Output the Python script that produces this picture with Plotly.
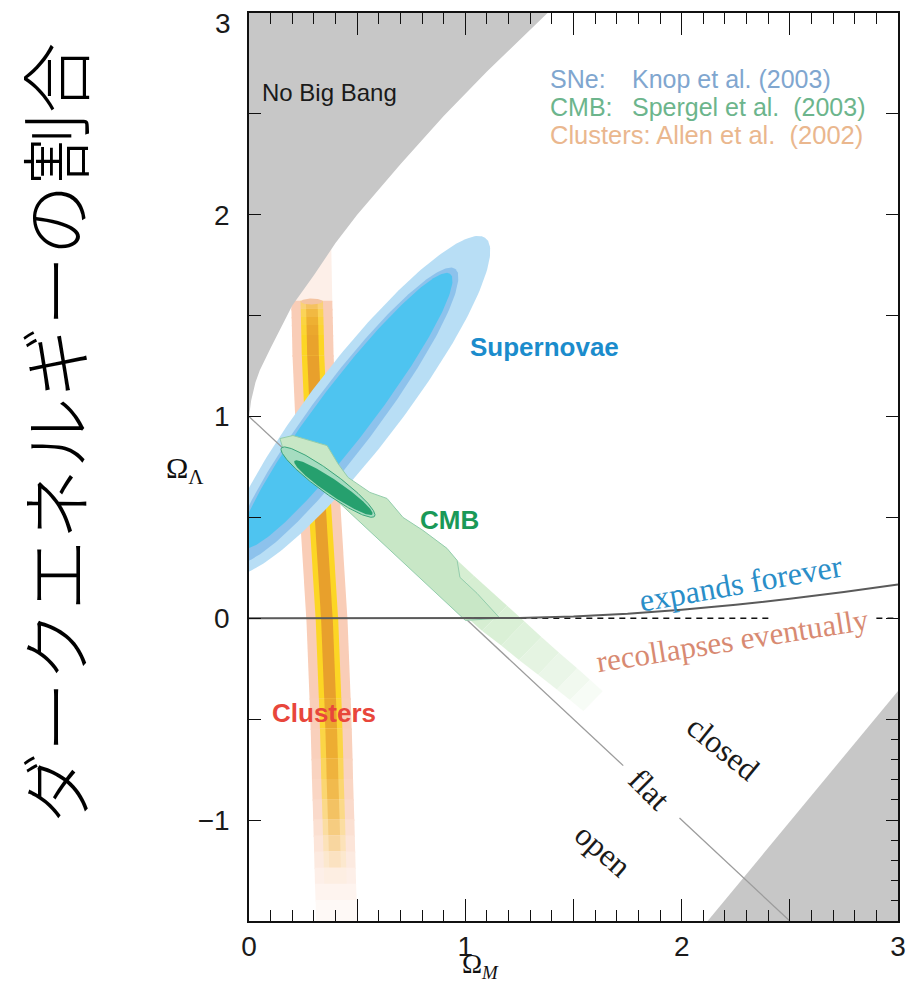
import numpy as np
import plotly.graph_objects as go

# ---------------- data ----------------
x_tick_vals = [0, 1, 2, 3]
x_tick_text = ["0", "1", "2", "3"]
x_half_ticks = [0.5, 1.5, 2.5]
y_tick_vals = [-1, 0, 1, 2]
y_tick_text = ["\u22121", "0", "1", "2"]
y_top_label = "3"
y_right_major = [-1.5, -1, -0.5, 0, 0.5, 1, 1.5, 2, 2.5, 3]
y_right_minor = [-1.4, -1.3, -1.2, -1.1, -0.9, -0.8, -0.7, -0.6]

# "No Big Bang" boundary (Omega_M, Omega_Lambda)
nbb_om = [0.0, 0.01, 0.03, 0.05, 0.10, 0.20, 0.30, 0.40, 0.50, 0.70, 0.90, 1.10, 1.38]
nbb_ol = [1.00, 1.08, 1.17, 1.23, 1.34, 1.55, 1.70, 1.86, 2.00, 2.25, 2.49, 2.71, 3.00]

# grey region bottom right
br_om = [2.12, 3.0, 3.0]
br_ol = [-1.5, -0.36, -1.5]

# expands forever / recollapses boundary
exp_om = [0.0, 1.0, 1.25, 1.5, 1.75, 2.0, 2.25, 2.5, 2.75, 3.0]
exp_ol = [0.0, 0.0, 0.0015, 0.0087, 0.0223, 0.042, 0.067, 0.0965, 0.130, 0.1675]

# dashed Omega_Lambda = 0 segments
dash1_om = [1.0, 2.42]
dash2_om = [2.9, 3.0]
dash_ol = [0.0, 0.0]

# flat universe line (two pieces, gap for the label)
flat1_om = [0.0, 1.73]
flat1_ol = [1.0, -0.73]
flat2_om = [1.99, 2.5]
flat2_ol = [-0.99, -1.5]

# Supernovae contours: tip 1, tip 2, half width (outer, middle, inner)
sn_t1_om = [-0.10, -0.06, -0.03]
sn_t1_ol = [0.22, 0.28, 0.35]
sn_t2_om = [1.091, 0.952, 0.929]
sn_t2_ol = [1.886, 1.733, 1.708]
sn_hw = [0.21, 0.155, 0.13]

# Clusters band: centre line and fading levels
clu_lam = [1.85, 1.57, 1.53, 1.49, 1.45, 1.40, 1.30, 0.60, 0.00, -0.40, -0.55, -0.70,
           -0.80, -0.90, -1.00, -1.08, -1.16, -1.24, -1.32, -1.40, -1.50]
clu_cen = [0.285, 0.290, 0.291, 0.292, 0.293, 0.294, 0.296, 0.325, 0.360, 0.375, 0.380, 0.384,
           0.386, 0.389, 0.392, 0.394, 0.396, 0.398, 0.400, 0.403, 0.405]
clu_peach_a = [0.25, 0.8, 0.8, 0.8, 0.8, 0.8, 0.8, 0.8, 0.8, 0.78, 0.74, 0.7,
               0.65, 0.58, 0.5, 0.42, 0.34, 0.26, 0.18, 0.1]
clu_yellow_a = [0, 0.45, 0.65, 0.8, 0.9, 1, 1, 1, 1, 0.9, 0.78, 0.65,
                0.52, 0.4, 0.28, 0.18, 0.1, 0.03, 0, 0]
clu_orange_a = [0, 0.3, 0.5, 0.7, 0.85, 0.95, 1, 1, 1, 0.88, 0.76, 0.64,
                0.52, 0.4, 0.28, 0.18, 0.08, 0, 0, 0]
clu_hw = [0.095, 0.052, 0.027]

# CMB main region outline
cmb_om = [0.143, 0.203, 0.361, 0.411, 0.458, 0.559, 0.638, 0.712, 0.804, 0.915, 0.962,
          0.975, 1.054, 1.128, 1.160, 1.000, 0.900, 0.700, 0.500, 0.300, 0.160]
cmb_ol = [0.891, 0.906, 0.856, 0.767, 0.698, 0.624, 0.594, 0.500, 0.436, 0.347, 0.287,
          0.203, 0.124, 0.040, 0.000, -0.010, 0.090, 0.290, 0.490, 0.690, 0.830]
# CMB fading tail: stations along its centre line
cmb_tail_om = [0.83, 0.98, 1.135, 1.22, 1.30, 1.385, 1.47, 1.53, 1.59]
cmb_tail_ol = [0.30, 0.15, 0.00, -0.075, -0.15, -0.225, -0.30, -0.355, -0.41]
cmb_tail_hw = [0.085, 0.085, 0.085, 0.08, 0.077, 0.073, 0.07, 0.068, 0.066]
cmb_tail_a = [1.0, 1.0, 0.9, 0.78, 0.64, 0.5, 0.35, 0.2]
# CMB ellipses (ring, core)
cmb_t1_om = [0.15, 0.21]
cmb_t1_ol = [0.845, 0.78]
cmb_t2_om = [0.58, 0.57]
cmb_t2_ol = [0.505, 0.515]
cmb_hw = [0.05, 0.036]

# ---------------- helpers ----------------
def ellipse_pts(x1, y1, x2, y2, hw, n=241):
    cx, cy = (x1 + x2) / 2, (y1 + y2) / 2
    dx, dy = x2 - x1, y2 - y1
    L = np.hypot(dx, dy)
    ux, uy = dx / L, dy / L
    vx, vy = -uy, ux
    a = L / 2
    t = np.linspace(0, 2 * np.pi, n)
    return (cx + a * np.cos(t) * ux + hw * np.sin(t) * vx,
            cy + a * np.cos(t) * uy + hw * np.sin(t) * vy)


def blend(c, base, a):
    return tuple(base[i] + (c[i] - base[i]) * a for i in range(3))


def rgb(c):
    return "rgb(%d,%d,%d)" % tuple(int(round(v)) for v in c)


WHITE = (255, 255, 255)
PEACH = (247, 192, 165)
YELLOW = (252, 214, 36)
ORANGE = (232, 160, 44)
GREY = "#c7c7c7"

fig = go.Figure()


def poly(xs, ys, fill, line_color=None, line_width=0):
    fig.add_trace(go.Scatter(
        x=list(xs), y=list(ys), mode="lines", fill="toself", fillcolor=fill,
        line=dict(color=line_color or fill, width=line_width),
        hoverinfo="skip", showlegend=False))


def line(xs, ys, color, width, dash="solid"):
    fig.add_trace(go.Scatter(
        x=xs, y=ys, mode="lines", line=dict(color=color, width=width, dash=dash),
        hoverinfo="skip", showlegend=False))

# ---- Clusters band ----
eps = 0.004
for i in range(len(clu_lam) - 1):
    l0, l1 = clu_lam[i] + eps, clu_lam[i + 1] - eps
    c0, c1 = clu_cen[i], clu_cen[i + 1]
    pa = clu_peach_a[i]
    pcol = blend(PEACH, WHITE, pa)
    pfill = "rgba(%d,%d,%d,%.2f)" % (PEACH + (pa,)) if i == 0 else rgb(pcol)
    hw = clu_hw[0]
    poly([c0 - hw, c0 + hw, c1 + hw, c1 - hw], [l0, l0, l1, l1], pfill)
    if clu_yellow_a[i] > 0:
        ycol = blend(YELLOW, pcol, clu_yellow_a[i])
        hw = clu_hw[1]
        poly([c0 - hw, c0 + hw, c1 + hw, c1 - hw], [l0, l0, l1, l1], rgb(ycol))
        if clu_orange_a[i] > 0:
            ocol = blend(ORANGE, ycol, clu_orange_a[i])
            hw = clu_hw[2]
            poly([c0 - hw, c0 + hw, c1 + hw, c1 - hw], [l0, l0, l1, l1], rgb(ocol))
cx, cy = ellipse_pts(clu_cen[1] - 0.05, clu_lam[1], clu_cen[1] + 0.05, clu_lam[1], 0.015)
poly(cx, cy, "rgb(244,196,162)")

# ---- grey regions ----
poly(nbb_om + [0.0], nbb_ol + [3.0], GREY)
poly(br_om, br_ol, GREY)

# ---- Supernovae ----
for k, col in enumerate(["#b8def5", "#8dc2ec", "#4ec4f0"]):
    ex, ey = ellipse_pts(sn_t1_om[k], sn_t1_ol[k], sn_t2_om[k], sn_t2_ol[k], sn_hw[k])
    poly(ex, ey, col)

# ---- CMB tail (fading light green band) ----
CMBL = (214, 238, 210)
CMBG = (200, 231, 198)
n_st = len(cmb_tail_om)
normals = []
for i in range(n_st):
    i0, i1 = max(i - 1, 0), min(i + 1, n_st - 1)
    dx = cmb_tail_om[i1] - cmb_tail_om[i0]
    dy = cmb_tail_ol[i1] - cmb_tail_ol[i0]
    L = np.hypot(dx, dy)
    normals.append((-dy / L, dx / L))
for i in range(n_st - 1):
    pts = []
    for j in (i, i + 1):
        nx, ny = normals[j]
        h = cmb_tail_hw[j]
        pts.append((cmb_tail_om[j] - nx * h, cmb_tail_ol[j] - ny * h))
        pts.append((cmb_tail_om[j] + nx * h, cmb_tail_ol[j] + ny * h))
    xs = [pts[0][0], pts[1][0], pts[3][0], pts[2][0]]
    ys = [pts[0][1], pts[1][1], pts[3][1], pts[2][1]]
    poly(xs, ys, rgb(blend(CMBL, WHITE, cmb_tail_a[i])))

# ---- flat line ----
line(flat1_om, flat1_ol, "#9c9c9c", 1.3)
line(flat2_om, flat2_ol, "#9c9c9c", 1.3)

# ---- CMB main ----
poly(cmb_om + [cmb_om[0]], cmb_ol + [cmb_ol[0]], rgb(CMBG), "#93cdac", 1)
ex, ey = ellipse_pts(cmb_t1_om[0], cmb_t1_ol[0], cmb_t2_om[0], cmb_t2_ol[0], cmb_hw[0])
poly(ex, ey, "#a5dcc0", "#3aa47a", 1)
ex, ey = ellipse_pts(cmb_t1_om[1], cmb_t1_ol[1], cmb_t2_om[1], cmb_t2_ol[1], cmb_hw[1])
poly(ex, ey, "#26a06e")

# ---- expansion boundary ----
line(dash1_om, dash_ol, "#111111", 1.5, "6px,5px")
line(dash2_om, dash_ol, "#111111", 1.5, "6px,5px")
line(exp_om, exp_ol, "#5a5a5a", 2)

# invisible trace for the extra tick axes
fig.add_trace(go.Scatter(x=[0], y=[0], xaxis="x2", yaxis="y2", mode="markers",
                         marker=dict(opacity=0), hoverinfo="skip", showlegend=False))

# ---------------- annotations ----------------
anns = []


def ann(x, y, text, size, color, family, angle=0, xanchor="center", xref="x", yref="y",
        weight=None, yanchor="middle"):
    f = dict(size=size, color=color, family=family)
    if weight:
        f["weight"] = weight
    anns.append(dict(x=x, y=y, xref=xref, yref=yref, text=text, showarrow=False,
                     textangle=angle, xanchor=xanchor, yanchor=yanchor, font=f))

SANS = "Liberation Sans, Arial, sans-serif"
NARROW = "Liberation Sans Narrow, Arial Narrow, Liberation Sans, sans-serif"
SERIF = "Liberation Serif, Times New Roman, serif"

ann(0.370, 2.604, "No Big Bang", 24, "#1a1a1a", NARROW)
ann(1.382, 2.673, "SNe:", 25, "#80a6cf", SANS, xanchor="left")
ann(1.761, 2.673, "Knop et al. (2003)", 25, "#80a6cf", SANS, xanchor="left")
ann(1.382, 2.535, "CMB:", 25, "#6cb58c", SANS, xanchor="left")
ann(1.761, 2.535, "Spergel et al.  (2003)", 25, "#6cb58c", SANS, xanchor="left")
ann(1.382, 2.396, "Clusters: Allen et al.  (2002)", 25.5, "#eab78e", SANS, xanchor="left")

ann(1.368, 1.347, "<b>Supernovae</b>", 26, "#1b8ccc", SANS)
ann(0.925, 0.485, "<b>CMB</b>", 26, "#1a9958", SANS)
ann(0.347, -0.470, "<b>Clusters</b>", 26, "#e8463b", SANS)

ann(2.275, 0.173, "expands forever", 32, "#2a8ec8", SERIF, angle=-10)
ann(2.233, -0.109, "recollapses eventually", 31, "#d88a72", SERIF, angle=-9)
ann(2.191, -0.644, "closed", 32, "#1a1a1a", SERIF, angle=39)
ann(1.849, -0.847, "flat", 32, "#1a1a1a", SERIF, angle=45)
ann(1.636, -1.149, "open", 32, "#1a1a1a", SERIF, angle=41)

tick_size = 28
ann(-0.040, 0.988, y_top_label, tick_size, "#1a1a1a", SANS, xref="paper", yref="paper")
ann(-0.0986, 0.733, "\u03a9<sub>\u039b</sub>", 30, "#111111", SERIF, xref="paper")
ann(1.07, -0.0705, "\u03a9<sub><i>M</i></sub>", 27, "#111111", SERIF, yref="paper",
    yanchor="bottom")
ann(-0.3035, 0.537, "ダークエネルギーの割合", 71, "#000000",
    "Noto Sans CJK JP, sans-serif", angle=-90, xref="paper", yref="paper", weight=300)

# ---------------- layout ----------------
tickfont = dict(family=SANS, size=tick_size, color="#1a1a1a")
TK = "#111111"
fig.update_layout(
    width=918, height=986,
    margin=dict(l=249, r=20, t=11, b=65),
    paper_bgcolor="white", plot_bgcolor="white",
    showlegend=False,
    xaxis=dict(range=[0, 3], showgrid=False, zeroline=False,
               showline=True, linecolor=TK, linewidth=1.5, mirror="ticks",
               ticks="inside", tickmode="array", tickvals=x_tick_vals, ticktext=x_tick_text,
               ticklen=22, tickwidth=1.3, tickcolor=TK,
               minor=dict(ticks="inside", dtick=0.1, ticklen=11, tickwidth=1.1, tickcolor=TK),
               tickfont=tickfont, ticklabelstandoff=0),
    xaxis2=dict(range=[0, 3], overlaying="x", side="bottom", showgrid=False, zeroline=False,
                showline=False, showticklabels=False, mirror="ticks",
                ticks="inside", tickmode="array", tickvals=x_half_ticks,
                ticklen=22, tickwidth=1.3, tickcolor=TK),
    yaxis=dict(range=[-1.5, 3], showgrid=False, zeroline=False,
               showline=True, linecolor=TK, linewidth=1.5, mirror=True,
               ticks="inside", tickmode="array", tickvals=y_tick_vals, ticktext=y_tick_text,
               ticklen=12, tickwidth=1.3, tickcolor=TK,
               minor=dict(ticks="inside", dtick=0.5, ticklen=12, tickwidth=1.3, tickcolor=TK),
               tickfont=tickfont, ticklabelstandoff=12),
    yaxis2=dict(range=[-1.5, 3], overlaying="y", side="right", showgrid=False, zeroline=False,
                showline=False, showticklabels=False,
                ticks="inside", tickmode="array", tickvals=y_right_major,
                ticklen=12, tickwidth=1.3, tickcolor=TK,
                minor=dict(ticks="inside", tickmode="array", tickvals=y_right_minor,
                           ticklen=7, tickwidth=1.1, tickcolor=TK)),
    annotations=anns,
)

fig.write_html("out.html", config={"displayModeBar": False},
               post_script="document.body.style.margin='0px';"
                           "document.body.style.overflow='hidden';")
